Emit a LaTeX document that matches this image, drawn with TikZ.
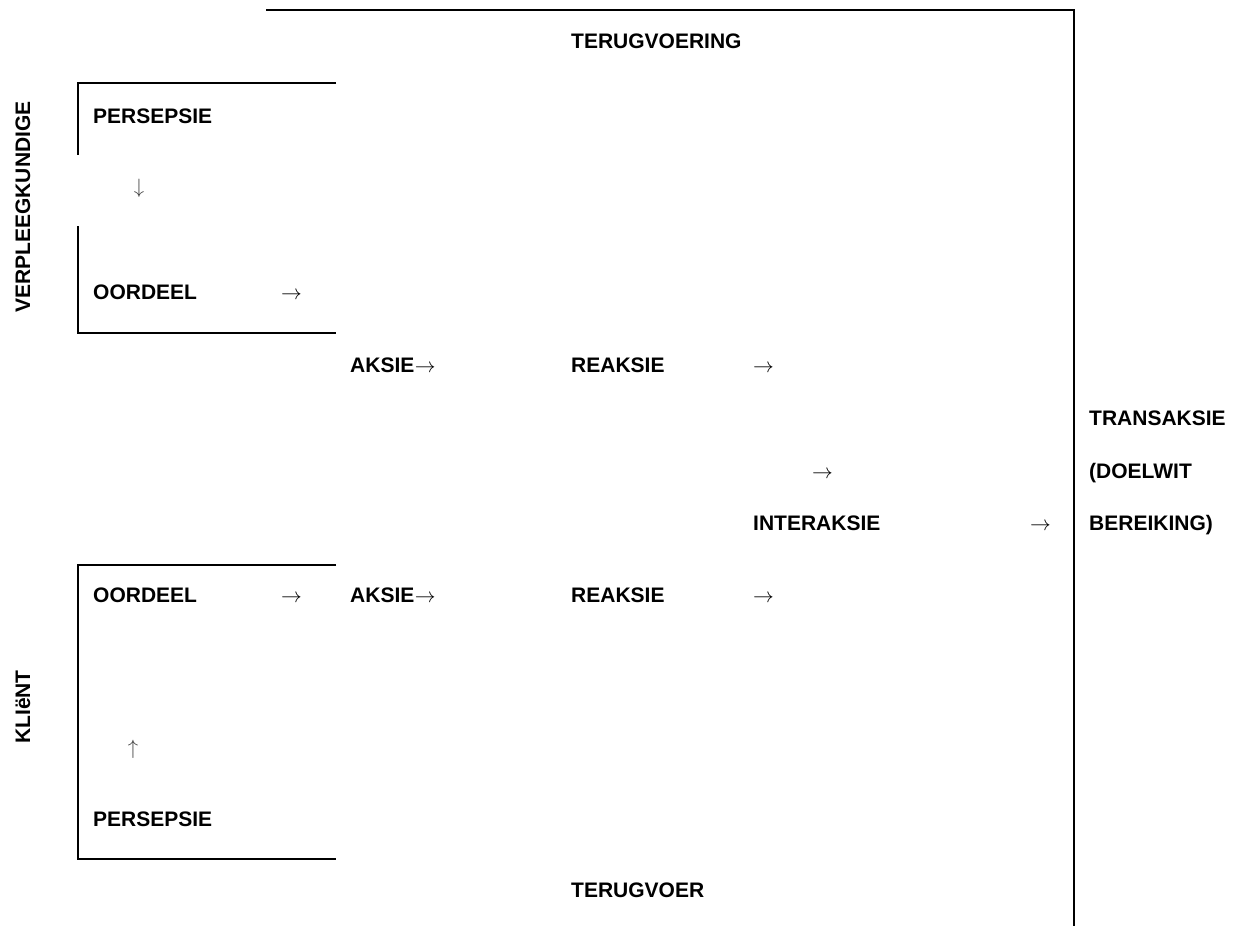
\documentclass[tikz,border=0pt]{standalone}
\usepackage{fontspec}
\setmainfont{Liberation Sans}
\newcommand{\rarr}{$\rightarrow$}
\newcommand{\darr}{$\downarrow$}
\newcommand{\uarr}{$\uparrow$}
\begin{document}
\begin{tikzpicture}[x=1pt,y=-1pt,
  lbl/.style={font=\fontsize{21}{25}\selectfont\bfseries, inner sep=0pt, anchor=base west},
  arr/.style={font=\fontsize{21}{25}\selectfont, inner sep=0pt, anchor=base west},
  varr/.style={font=\fontsize{21}{25}\selectfont, inner sep=0pt, anchor=center, text=black!75},
  side/.style={font=\fontsize{21}{25}\selectfont\bfseries, inner sep=0pt, anchor=center, rotate=90},
  frame/.style={line width=1.3pt}]
\useasboundingbox (0,0) rectangle (1245,926);

% outer feedback frame
\coordinate (fbstart) at (266,10);
\coordinate (fbcorner) at (1074,10);
\coordinate (fbend) at (1074,926);
\draw[frame] (fbstart) -- (fbcorner) -- (fbend);

% nurse bracket
\coordinate (n1) at (336,83);
\coordinate (n2) at (78,83);
\coordinate (n3) at (78,155);
\coordinate (n4) at (78,226);
\coordinate (n5) at (78,333);
\coordinate (n6) at (336,333);
\draw[frame] (n1) -- (n2) -- (n3);
\draw[frame] (n4) -- (n5) -- (n6);

% client bracket
\coordinate (c1) at (336,565);
\coordinate (c2) at (78,565);
\coordinate (c3) at (78,859);
\coordinate (c4) at (336,859);
\draw[frame] (c1) -- (c2) -- (c3) -- (c4);

% side labels
\node[side] (nurse) at (23,207) {VERPLEEGKUNDIGE};
\node[side] (client) at (23,707) {KLIëNT};

% feedback labels
\node[lbl] (fbtop) at (571,48) {TERUGVOERING};
\node[lbl] (fbbot) at (571,897) {TERUGVOER};

% nurse row
\node[lbl] (nper) at (93,123) {PERSEPSIE};
\node[varr] (ndown) at (139,188) {\darr};
\node[lbl] (nord) at (93,299) {OORDEEL};
\node[arr] (nordarr) at (281,299) {\rarr};
\node[lbl] (naks) at (350,372) {AKSIE};
\node[arr] (naksarr) at (naks.base east) {\rarr};
\node[lbl] (nrea) at (571,372) {REAKSIE};
\node[arr] (nreaarr) at (753,372) {\rarr};

% transaction
\node[lbl] (trans) at (1089,425) {TRANSAKSIE};
\node[arr] (midarr) at (812,478) {\rarr};
\node[lbl] (goal) at (1089,478) {(DOELWIT};
\node[lbl] (inter) at (753,530) {INTERAKSIE};
\node[arr] (interarr) at (1030,530) {\rarr};
\node[lbl] (reach) at (1089,530) {BEREIKING)};

% client row
\node[lbl] (cord) at (93,602) {OORDEEL};
\node[arr] (cordarr) at (281,602) {\rarr};
\node[lbl] (caks) at (350,602) {AKSIE};
\node[arr] (caksarr) at (caks.base east) {\rarr};
\node[lbl] (crea) at (571,602) {REAKSIE};
\node[arr] (creaarr) at (753,602) {\rarr};
\node[varr] (cup) at (133,749) {\uarr};
\node[lbl] (cper) at (93,826) {PERSEPSIE};
\end{tikzpicture}
\end{document}
